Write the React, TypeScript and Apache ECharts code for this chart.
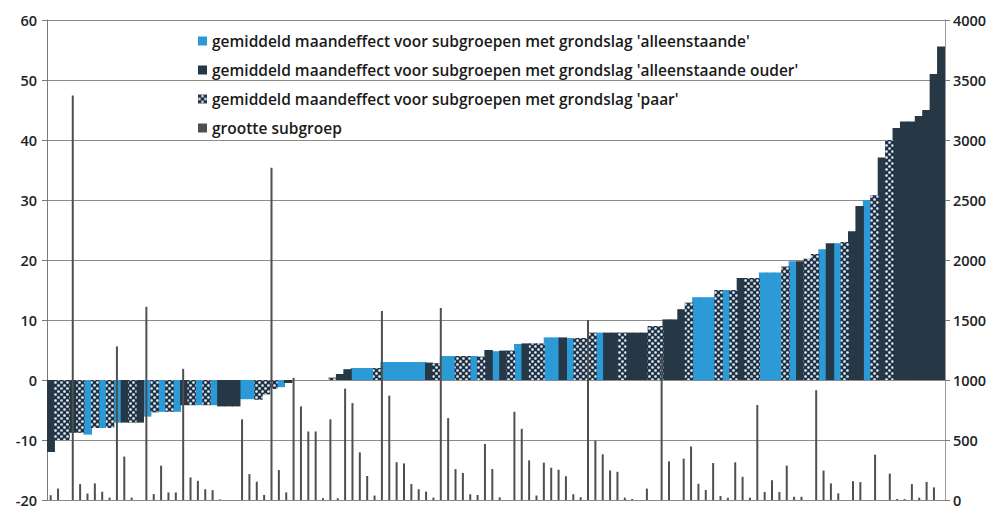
import React, { useEffect, useRef } from "react";
import * as echarts from "echarts";

// 'A' = alleenstaande, 'O' = alleenstaande ouder, 'P' = paar, '' = no bar
const barGroups: string[] = [
  "O", "P", "P", "O", "P", "A", "P", "A", "P", "A",
  "O", "P", "O", "A", "P", "A", "P", "A", "O", "P",
  "A", "P", "A", "O", "O", "O", "A", "A", "P", "P",
  "P", "A", "O", "", "", "", "", "", "P", "O",
  "O", "A", "A", "A", "P", "A", "A", "A", "A", "A",
  "A", "O", "P", "A", "A", "P", "P", "A", "P", "O",
  "A", "O", "P", "A", "O", "P", "P", "A", "A", "O",
  "A", "P", "P", "P", "A", "O", "O", "P", "O", "O",
  "O", "P", "P", "O", "O", "O", "P", "A", "A", "A",
  "P", "A", "P", "O", "P", "P", "A", "A", "A", "P",
  "A", "O", "P", "P", "A", "O", "A", "P", "O", "O",
  "A", "P", "O", "P", "O", "O", "O", "O", "O", "O",
  "O",
];

const barValues: (number | null)[] = [
  -12, -10, -10, -8.8, -8.8, -9.1, -8.0, -8.0, -8.0, -7.1,
  -7.1, -7.1, -7.1, -6.1, -5.4, -5.3, -5.3, -5.3, -4.2, -4.2,
  -4.2, -4.2, -4.2, -4.4, -4.4, -4.4, -3.2, -3.2, -3.3, -2.4,
  -1.5, -1.2, -0.5, null, null, null, null, null, 0.4, 1.0,
  1.8, 2.0, 2.0, 2.0, 2.0, 3.0, 3.0, 3.0, 3.0, 3.0,
  3.0, 2.9, 2.8, 4.0, 4.0, 4.0, 4.0, 4.0, 3.9, 5.0,
  4.8, 4.9, 4.9, 6.0, 6.1, 6.1, 6.1, 7.1, 7.1, 7.1,
  7.0, 7.0, 7.0, 7.9, 7.9, 7.9, 7.9, 7.9, 7.9, 7.9,
  7.9, 9.0, 9.0, 10.1, 10.1, 11.8, 12.9, 13.8, 13.8, 13.8,
  15.0, 15.0, 15.0, 17.0, 17.0, 17.0, 17.9, 17.9, 17.9, 18.9,
  19.8, 19.8, 20.2, 21.0, 21.8, 22.8, 22.8, 23.0, 24.8, 29.0,
  30.0, 30.8, 37.1, 40.0, 42.0, 43.1, 43.1, 44.0, 45.0, 51.0,
  55.6,
];

const groupSizes: number[] = [
  40, 95, 0, 3370, 132, 54, 138, 69, 20, 1280,
  362, 20, 0, 1610, 49, 286, 63, 63, 1093, 188,
  160, 90, 82, 5, 0, 0, 672, 216, 152, 43,
  2768, 250, 63, 1018, 780, 571, 571, 15, 672, 15,
  928, 808, 397, 200, 37, 1575, 870, 315, 305, 133,
  90, 70, 20, 1600, 683, 258, 225, 48, 42, 467,
  258, 22, 0, 735, 593, 330, 37, 311, 269, 252,
  198, 48, 23, 1500, 495, 381, 246, 235, 20, 8,
  0, 95, 0, 1200, 322, 0, 345, 446, 135, 83,
  308, 33, 19, 314, 193, 19, 791, 66, 165, 66,
  287, 27, 27, 0, 915, 245, 138, 55, 0, 157,
  149, 0, 378, 0, 220, 8, 8, 132, 19, 151,
  105, 0,
];

const leftTicks = { min: -20, max: 60, step: 10 };
const rightTicks = { min: 0, max: 4000, step: 500 };

const names: Record<string, string> = {
  A: "gemiddeld maandeffect voor subgroepen met grondslag 'alleenstaande'",
  O: "gemiddeld maandeffect voor subgroepen met grondslag 'alleenstaande ouder'",
  P: "gemiddeld maandeffect voor subgroepen met grondslag 'paar'",
};
const sizeName = "grootte subgroep";

const BLUE = "#2b9ad6";
const DARK = "#263845";
const NAVY = "#1d3148";
const LINE = "#4f4f4f";

export default function App() {
  const ref = useRef<HTMLDivElement>(null);

  useEffect(() => {
    if (!ref.current) return;
    const chart = echarts.init(ref.current, undefined, { renderer: "svg" });

    const barCats = barValues.map((_, i) => "g" + (i + 1));
    const sizeCats = groupSizes.map((_, i) => "s" + (i + 1));
    const dataFor = (code: string) =>
      barValues.map((v, i) => (barGroups[i] === code && v !== null ? v : "-"));

    const fontFamily = "'Open Sans', sans-serif";
    const BW = "114%"; // slight overlap so neighbouring columns merge without seams

    const option: any = {
      animation: false,
      textStyle: { fontFamily },
      grid: { left: 47, right: 49, top: 20, bottom: 11, containLabel: false },
      legend: {
        orient: "vertical",
        left: 193,
        top: 28,
        itemWidth: 9,
        itemHeight: 9,
        itemGap: 13,
        icon: "rect",
        textStyle: { fontSize: 15.5, fontWeight: 600, color: "#1a1a1a", lineHeight: 16, fontFamily },
        data: [names.A, names.O, names.P, sizeName],
      },
      xAxis: [
        {
          type: "category",
          data: barCats,
          axisLine: { onZero: false, lineStyle: { color: "#8a8a8a" } },
          axisTick: { show: false },
          axisLabel: { show: false },
          splitLine: { show: false },
        },
        { type: "category", data: sizeCats, show: false },
      ],
      yAxis: [
        {
          type: "value",
          min: leftTicks.min,
          max: leftTicks.max,
          interval: leftTicks.step,
          axisLine: { show: true, lineStyle: { color: "#7a7a7a" } },
          axisTick: { show: true, length: 5, lineStyle: { color: "#7a7a7a" } },
          axisLabel: { fontSize: 14.5, fontWeight: 600, color: "#222", margin: 10, fontFamily },
          splitLine: { show: true, lineStyle: { color: "#8c8c8c", width: 1 } },
        },
        {
          type: "value",
          position: "right",
          min: rightTicks.min,
          max: rightTicks.max,
          interval: rightTicks.step,
          axisLine: { show: true, lineStyle: { color: "#9a9a9a" } },
          axisTick: { show: true, length: 5, lineStyle: { color: "#7a7a7a" } },
          axisLabel: {
            fontSize: 14.5,
            fontWeight: 600,
            color: "#222",
            margin: 8,
            fontFamily,
            formatter: (v: number) => String(v),
          },
          splitLine: { show: false },
        },
      ],
      series: [
        {
          name: names.A,
          type: "bar",
          stack: "eff",
          barWidth: BW,
          data: dataFor("A"),
          itemStyle: { color: BLUE },
        },
        {
          name: names.O,
          type: "bar",
          stack: "eff",
          barWidth: BW,
          data: dataFor("O"),
          itemStyle: { color: DARK },
        },
        {
          name: names.P,
          type: "bar",
          stack: "eff",
          barWidth: BW,
          data: dataFor("P"),
          itemStyle: {
            color: NAVY,
            decal: {
              symbol: "circle",
              symbolSize: 0.9,
              color: "rgba(255,255,255,0.9)",
              backgroundColor: NAVY,
              dashArrayX: [[2.5, 2.5], [0, 2.5, 2.5, 0]],
              dashArrayY: [2.5, 0],
              rotation: 0,
            },
          },
        },
        {
          name: sizeName,
          type: "bar",
          xAxisIndex: 1,
          yAxisIndex: 1,
          barWidth: 2,
          data: groupSizes,
          itemStyle: { color: LINE },
        },
      ],
    };

    chart.setOption(option);
    return () => chart.dispose();
  }, []);

  return (
    <div
      ref={ref}
      style={{ position: "fixed", left: 0, top: 0, width: "994px", height: "511px", background: "#fff" }}
    />
  );
}
